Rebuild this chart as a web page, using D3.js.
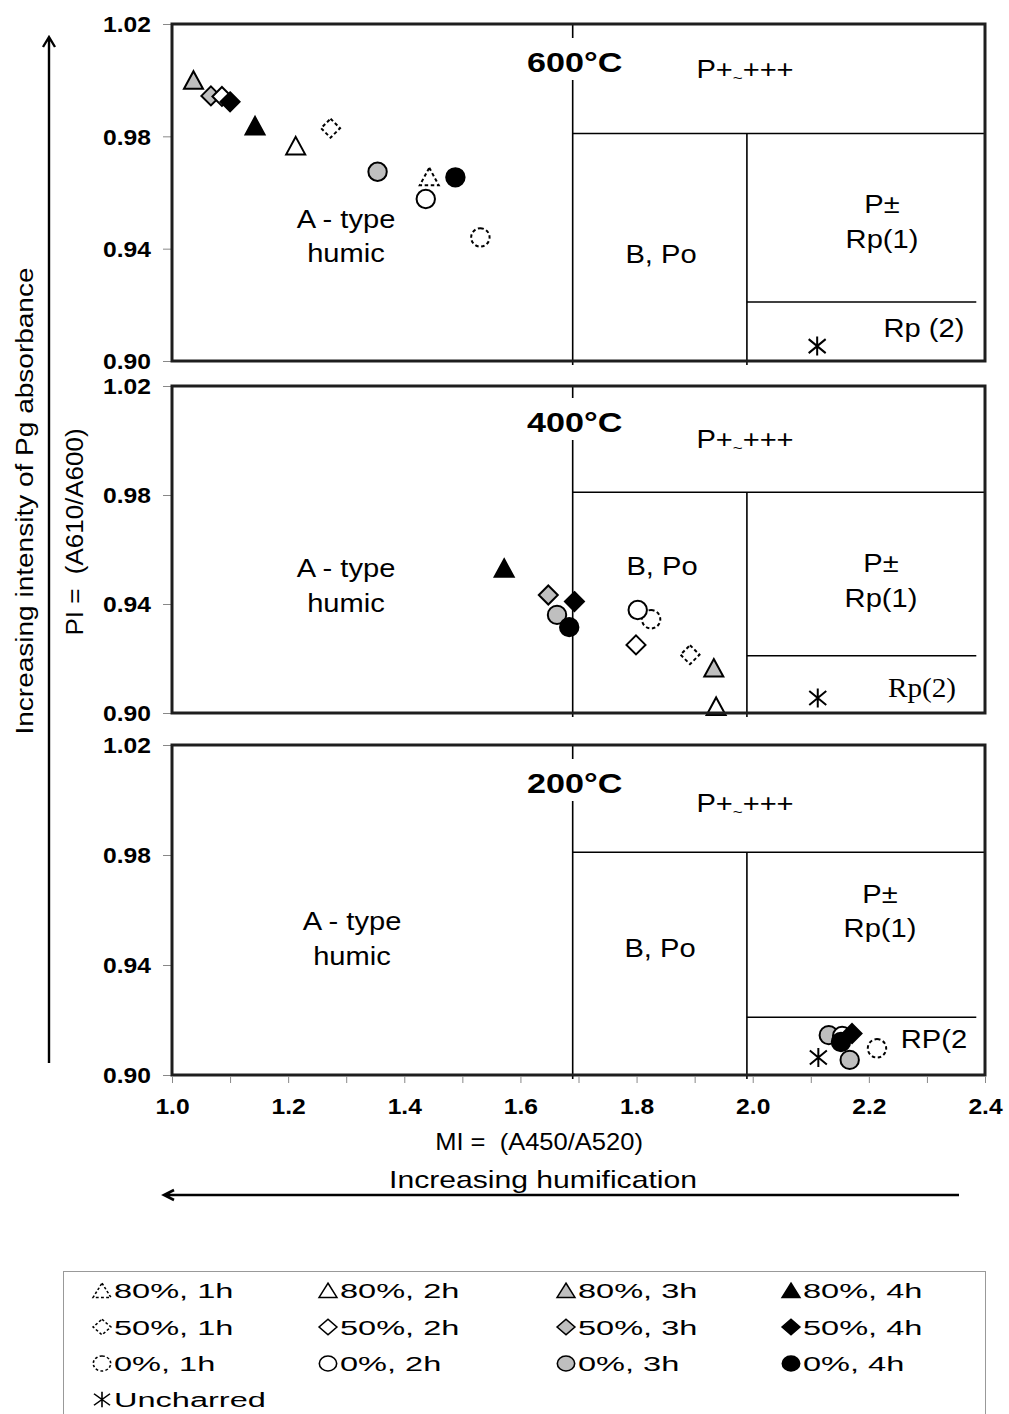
<!DOCTYPE html>
<meta charset="utf-8">
<script src="https://d3js.org/d3.v7.min.js"></script>
<style>
body { margin: 0; background: #fff; }
text { font-family: "Liberation Sans", Arial, sans-serif; fill: #000; }
</style>
<div id="vis"></div>
<script>

var width = 1009,
    height = 1414

// ---- data ----
var series = ["80%, 1h", "80%, 2h", "80%, 3h", "80%, 4h",
              "50%, 1h", "50%, 2h", "50%, 3h", "50%, 4h",
              "0%, 1h", "0%, 2h", "0%, 3h", "0%, 4h", "Uncharred"]

var temps = ["600°C", "400°C", "200°C"]

var keys600 = ["80%, 3h", "50%, 3h", "50%, 2h", "50%, 4h", "80%, 4h", "80%, 2h", "50%, 1h", "0%, 3h", "80%, 1h", "0%, 2h", "0%, 4h", "0%, 1h", "Uncharred"]
var mi600   = [1.037, 1.067, 1.086, 1.100, 1.143, 1.213, 1.273, 1.354, 1.443, 1.437, 1.488, 1.531, 2.111]
var pi600   = [1.000, 0.9944, 0.9942, 0.9923, 0.9837, 0.9766, 0.9829, 0.9674, 0.9656, 0.9577, 0.9654, 0.944, 0.9053]

var keys400 = ["80%, 4h", "50%, 3h", "0%, 3h", "0%, 4h", "50%, 4h", "0%, 1h", "0%, 2h", "50%, 2h", "50%, 1h", "80%, 3h", "80%, 2h", "Uncharred"]
var mi400   = [1.572, 1.648, 1.663, 1.684, 1.693, 1.825, 1.802, 1.799, 1.892, 1.933, 1.937, 2.112]
var pi400   = [0.9531, 0.9433, 0.936, 0.9315, 0.9409, 0.9344, 0.9378, 0.925, 0.9214, 0.9165, 0.9024, 0.9055]

var keys200 = ["0%, 3h", "0%, 3h", "0%, 2h", "50%, 4h", "0%, 4h", "Uncharred", "0%, 1h"]
var mi200   = [2.131, 2.167, 2.154, 2.171, 2.152, 2.113, 2.214]
var pi200   = [0.9145, 0.9055, 0.9142, 0.9151, 0.912, 0.9064, 0.9097]

// zone boundaries (MI, PI)
var miBounds = [1.69, 1.99]
var piBounds = [0.981, 0.921]
var rp2End = 2.385

var xTicks = [1.0, 1.2, 1.4, 1.6, 1.8, 2.0, 2.2, 2.4]
var xMinor = [1.1, 1.3, 1.5, 1.7, 1.9, 2.1, 2.3]
var yTicks = [0.90, 0.94, 0.98, 1.02]

// ---- layout ----
var svg = d3.select("#vis")
  .append("svg")
    .attr("width", width)
    .attr("height", height)

var x = d3.scaleLinear().domain([1.0, 2.4]).range([172, 985])

var panels = [
  {top: 24,  bottom: 361,  keys: keys600, mi: mi600, pi: pi600, title: temps[0],
   lab: {title: 72, atype: [346, 228, 262], pp: 78, bpo: [661, 263], pr: [882, 213, 248], rp2: [924, 337, "Rp (2)", "sans"]}},
  {top: 386, bottom: 713,  keys: keys400, mi: mi400, pi: pi400, title: temps[1],
   lab: {title: 432, atype: [346, 577, 612], pp: 448, bpo: [662, 575], pr: [881, 572, 607], rp2: [922, 697, "Rp(2)", "serif"]}},
  {top: 745, bottom: 1075, keys: keys200, mi: mi200, pi: pi200, title: temps[2],
   lab: {title: 793, atype: [352, 930, 965], pp: 812, bpo: [660, 957], pr: [880, 903, 937], rp2: [934, 1048, "RP(2", "sans"]}}
]

function label(g, str, px, py, size, opt) {
  opt = opt || {}
  return g.append("text")
    .attr("transform", "translate(" + px + "," + py + ")" + (opt.rot ? " rotate(-90)" : "") +
          " scale(" + (opt.sx || 1.12) + ",1)")
    .attr("text-anchor", opt.anchor || "middle")
    .style("font-size", size + "px")
    .style("font-weight", opt.bold ? "bold" : null)
    .style("font-family", opt.family || null)
    .style("white-space", "pre")
    .text(str)
}

function style(key) {
  var s = {}
  s.shape = key == "Uncharred" ? "ast" : key.indexOf("80%") == 0 ? "tri" : key.indexOf("50%") == 0 ? "dia" : "cir"
  var h = key.slice(-2)
  s.fill = h == "3h" ? "#bfbfbf" : h == "4h" ? "#000" : "#fff"
  s.dash = h == "1h"
  return s
}

function shapePath(shape, k) {
  if (shape == "tri") return "M0," + (-9 * k) + "L" + (9.5 * k) + "," + (8.5 * k) + "L" + (-9.5 * k) + "," + (8.5 * k) + "Z"
  if (shape == "dia") return "M0," + (-9.5 * k) + "L" + (9.5 * k) + ",0L0," + (9.5 * k) + "L" + (-9.5 * k) + ",0Z"
  if (shape == "cir") return d3.arc()({innerRadius: 0, outerRadius: 9.2 * k, startAngle: 0, endAngle: 2 * Math.PI})
  return "M0," + (-9.5 * k) + "V" + (9.5 * k) + "M" + (-8.5 * k) + "," + (-7 * k) + "L" + (8.5 * k) + "," + (7 * k) +
         "M" + (-8.5 * k) + "," + (7 * k) + "L" + (8.5 * k) + "," + (-7 * k)
}

function marker(g, key, px, py, k, sx) {
  var s = style(key)
  g.append("path")
    .attr("transform", "translate(" + px + "," + py + ")" + (sx ? " scale(" + sx + ",1)" : ""))
    .attr("d", shapePath(s.shape, k))
    .attr("fill", s.shape == "ast" ? "none" : s.fill)
    .attr("stroke", "#000")
    .attr("stroke-width", k < 1 ? 1.4 : 2)
    .attr("stroke-dasharray", s.dash ? (k < 1 ? "2.5,2" : "3.5,2.6") : null)
}

panels.forEach(function(p, i) {
  var y = d3.scaleLinear().domain([0.90, 1.02]).range([p.bottom, p.top])
  var g = svg.append("g")

  // zone lines
  var ln = g.append("g").attr("stroke", "#000").attr("stroke-width", 1.6)
  ln.append("line").attr("x1", x(miBounds[0])).attr("x2", x(miBounds[0])).attr("y1", p.top).attr("y2", p.bottom + 4)
  ln.append("line").attr("x1", x(miBounds[0])).attr("x2", x(2.4)).attr("y1", y(piBounds[0])).attr("y2", y(piBounds[0]))
  ln.append("line").attr("x1", x(miBounds[1])).attr("x2", x(miBounds[1])).attr("y1", y(piBounds[0])).attr("y2", p.bottom + 4)
  ln.append("line").attr("x1", x(miBounds[1])).attr("x2", x(rp2End)).attr("y1", y(piBounds[1])).attr("y2", y(piBounds[1]))

  // title with white gap behind it
  var L = p.lab
  g.append("rect").attr("x", x(miBounds[0]) - 50).attr("y", L.title - 34).attr("width", 100).attr("height", 42).attr("fill", "#fff")
  label(g, p.title, x(miBounds[0]) + 2, L.title, 28, {bold: true, sx: 1.22})

  // zone labels
  label(g, "A - type", L.atype[0], L.atype[1], 26)
  label(g, "humic", L.atype[0], L.atype[2], 26)
  var pp = label(g, "P+", 745, L.pp, 26)
  pp.text(null)
  pp.append("tspan").text("P+")
  pp.append("tspan").attr("dy", 5).style("font-size", "15px").text("~")
  pp.append("tspan").attr("dy", -5).text("+++")
  label(g, "B, Po", L.bpo[0], L.bpo[1], 26)
  label(g, "P±", L.pr[0], L.pr[1], 26)
  label(g, "Rp(1)", L.pr[0], L.pr[2], 26)
  if (L.rp2[3] == "serif") label(g, L.rp2[2], L.rp2[0], L.rp2[1], 27, {family: "'Liberation Serif', 'Times New Roman', serif", sx: 1.08})
  else label(g, L.rp2[2], L.rp2[0], L.rp2[1], 26)

  // points
  p.keys.forEach(function(k, j) {
    marker(g, k, x(p.mi[j]), y(p.pi[j]), 1)
  })

  // y axis
  var ga = g.append("g")
    .attr("transform", "translate(171,0)")
    .call(d3.axisLeft(y).tickValues(yTicks).tickSize(8).tickFormat(d3.format(".2f")))
  ga.select(".domain").remove()
  ga.selectAll("line").attr("stroke", "#888")
  ga.selectAll("text")
    .attr("x", null)
    .attr("dy", "0.36em")
    .attr("transform", "translate(-20,0) scale(1.12,1)")
    .style("font-size", "22px")
    .style("font-weight", "bold")

  // frame
  g.append("rect")
    .attr("x", x(1.0)).attr("y", p.top)
    .attr("width", x(2.4) - x(1.0)).attr("height", p.bottom - p.top)
    .attr("fill", "none").attr("stroke", "#1e1e1e").attr("stroke-width", 3)

  // x axis on last panel
  if (i == panels.length - 1) {
    var gm = g.append("g").attr("transform", "translate(0," + (p.bottom + 1) + ")")
      .call(d3.axisBottom(x).tickValues(xMinor).tickSize(7).tickFormat(""))
    gm.select(".domain").remove()
    gm.selectAll("line").attr("stroke", "#888")
    var gx = g.append("g").attr("transform", "translate(0," + (p.bottom + 1) + ")")
      .call(d3.axisBottom(x).tickValues(xTicks).tickSize(7).tickFormat(d3.format(".1f")))
    gx.select(".domain").remove()
    gx.selectAll("line").attr("stroke", "#888")
    gx.selectAll("text")
      .attr("y", null).attr("dy", null)
      .attr("transform", "translate(0,38) scale(1.12,1)")
      .style("font-size", "22px")
      .style("font-weight", "bold")
  }
})

// axis titles
label(svg, "Increasing intensity of Pg absorbance", 33, 501, 24, {rot: true, sx: 1.167})
label(svg, "PI =  (A610/A600)", 83, 532, 23, {rot: true, sx: 1.13})
label(svg, "MI =  (A450/A520)", 539, 1150, 23, {sx: 1.11})
label(svg, "Increasing humification", 543, 1188, 24, {sx: 1.255})

// arrows
svg.append("path")
  .attr("d", "M49,1063V37M43,47L49,37L55,47")
  .attr("fill", "none").attr("stroke", "#000").attr("stroke-width", 2.4)
svg.append("path")
  .attr("d", "M959,1195H164M174,1190L164,1195L174,1200")
  .attr("fill", "none").attr("stroke", "#000").attr("stroke-width", 2.6)

// legend
svg.append("rect")
  .attr("x", 63.5).attr("y", 1271.5).attr("width", 922).attr("height", 200)
  .attr("fill", "none").attr("stroke", "#999").attr("stroke-width", 1)

var legCols = [102, 328, 566, 791]
var legRows = [1298, 1334.5, 1371, 1407]
series.forEach(function(k, j) {
  var c = j == 12 ? 0 : j % 4
  var r = j == 12 ? 3 : Math.floor(j / 4)
  marker(svg, k, legCols[c], legRows[r] - 7.5, 0.82, 1.15)
  label(svg, k, legCols[c] + 12, legRows[r], 21, {anchor: "start", sx: 1.55})
})

</script>
